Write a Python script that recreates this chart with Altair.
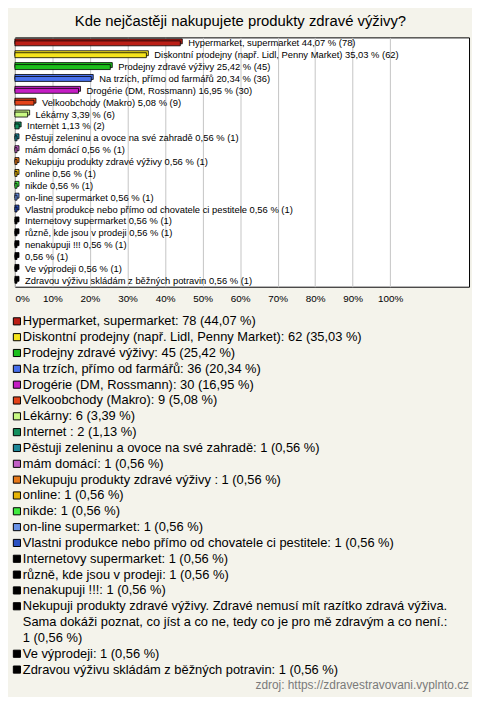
import textwrap
import altair as alt
import pandas as pd

title_text = "Kde nejčastěji nakupujete produkty zdravé výživy?"
source_text = "zdroj: https://zdravestravovani.vyplnto.cz"

names = [
    "Hypermarket, supermarket",
    "Diskontní prodejny (např. Lidl, Penny Market)",
    "Prodejny zdravé výživy",
    "Na trzích, přímo od farmářů",
    "Drogérie (DM, Rossmann)",
    "Velkoobchody (Makro)",
    "Lékárny",
    "Internet ",
    "Pěstuji zeleninu a ovoce na své zahradě",
    "mám domácí",
    "Nekupuju produkty zdravé výživy ",
    "online",
    "nikde",
    "on-line supermarket",
    "Vlastni produkce nebo přímo od chovatele ci pestitele",
    "Internetovy supermarket",
    "různě, kde jsou v prodeji",
    " nenakupuji !!!",
    "Nekupuji produkty zdravé výživy. Zdravé nemusí mít razítko zdravá výživa. Sama dokáži poznat, co jíst a co ne, tedy co je pro mě zdravým a co není.",
    "Ve výprodeji",
    "Zdravou výživu skládám z běžných potravin",
]
# the bar chart shows no name for the long answer
bar_names = names[:18] + [""] + names[19:]
counts = [78, 62, 45, 36, 30, 9, 6, 2, 1, 1, 1, 1, 1, 1, 1, 1, 1, 1, 1, 1, 1]
percents = [44.07, 35.03, 25.42, 20.34, 16.95, 5.08, 3.39, 1.13,
            0.56, 0.56, 0.56, 0.56, 0.56, 0.56, 0.56, 0.56, 0.56, 0.56, 0.56, 0.56, 0.56]
colors = [
    "#bb1e16", "#f5e41c", "#1cbf1c", "#4870ec", "#c41ec4", "#e4431a",
    "#c9fa84", "#14905e", "#1d8797", "#c260c6", "#e67818", "#e6b406",
    "#40ea40", "#6a93e6", "#2b52c2", "#000000", "#000000", "#000000",
    "#000000", "#000000", "#000000",
]
x_ticks = [0, 10, 20, 30, 40, 50, 60, 70, 80, 90, 100]

n = len(names)


def fmt(p):
    return f"{p:.2f}".replace(".", ",")


bar_labels = [((b + " ") if b else "") + f"{fmt(p)} % ({c})"
              for b, p, c in zip(bar_names, percents, counts)]
bar_df = pd.DataFrame({"idx": list(range(n)), "pct": percents, "label": bar_labels})

leg_rows = []
line = 0
for i, (nm, c, p) in enumerate(zip(names, counts, percents)):
    txt = f"{nm}: {c} ({fmt(p)} %)"
    parts = textwrap.wrap(txt, width=75) if len(txt) > 75 else [txt]
    leg_rows.append({"idx": i, "line": line, "mid": line + 0.5, "text": "\n".join(parts)})
    line += len(parts)
leg_df = pd.DataFrame(leg_rows)
src_df = pd.DataFrame({"text": [source_text], "mid": [line + 0.5]})

FONT = "Liberation Sans"
color_scale = alt.Scale(domain=list(range(n)), range=colors)
x_scale = alt.Scale(domain=[0, 121], nice=False, zero=False)
x_axis = alt.Axis(values=x_ticks, labelExpr="datum.value + '%'", grid=True,
                  gridColor="#c4c4c4", gridWidth=1, domain=False, ticks=False,
                  labelFontSize=10, labelFont=FONT, labelColor="#000000",
                  labelPadding=7, labelFlush=True, title=None)
y_enc = alt.Y("idx:O", axis=None, scale=alt.Scale(paddingInner=0, paddingOuter=0))

base = alt.Chart(bar_df)
back = base.mark_bar(size=5, xOffset=2, yOffset=-2, stroke="black", strokeWidth=0.8).encode(
    x=alt.X("pct:Q", scale=x_scale, axis=x_axis), x2=alt.datum(0), y=y_enc,
    fill=alt.Fill("idx:N", scale=color_scale, legend=None))
front = base.mark_bar(size=5, stroke="black", strokeWidth=0.8).encode(
    x=alt.X("pct:Q", scale=x_scale, axis=x_axis), x2=alt.datum(0), y=y_enc,
    fill=alt.Fill("idx:N", scale=color_scale, legend=None))
labels = base.mark_text(align="left", baseline="middle", dx=8, fontSize=9.5, font=FONT,
                        color="#000000").encode(
    x=alt.X("pct:Q", scale=x_scale, axis=x_axis), y=y_enc, text="label:N")

top = alt.layer(back, front, labels).properties(
    width=459, height=252,
    view=alt.ViewBackground(fill="white", stroke="black", strokeWidth=1))

ly = alt.Scale(domain=[0, line + 1], reverse=True, nice=False, zero=False)
squares = alt.Chart(leg_df).mark_square(size=52, stroke="black", strokeWidth=1,
                                        opacity=1, filled=True).encode(
    x=alt.value(2), y=alt.Y("mid:Q", scale=ly, axis=None),
    fill=alt.Fill("idx:N", scale=color_scale, legend=None))
leg_text = alt.Chart(leg_df).mark_text(align="left", baseline="line-top", lineHeight=16,
                                       lineBreak="\n", fontSize=13, font=FONT,
                                       color="#000000").encode(
    x=alt.value(8), y=alt.Y("line:Q", scale=ly, axis=None), text="text:N")
src = alt.Chart(src_df).mark_text(align="right", baseline="middle", fontSize=12, font=FONT,
                                  color="#7a7a7a").encode(
    x=alt.value(459), y=alt.Y("mid:Q", scale=ly, axis=None), text="text:N")

legend = alt.layer(squares, leg_text, src).properties(
    width=459, height=16 * (line + 1),
    view=alt.ViewBackground(fill=None, stroke=None))

chart = alt.vconcat(top, legend, spacing=9).properties(
    title=alt.Title(title_text, fontSize=15, font=FONT, fontWeight="normal",
                    anchor="middle", offset=8, color="#000000"),
    padding={"left": 3, "top": 2, "right": 2, "bottom": 0},
).configure(background="#f4f3eb").configure_view(stroke=None)

chart.save("out.html", embed_options={"renderer": "svg", "actions": False})
